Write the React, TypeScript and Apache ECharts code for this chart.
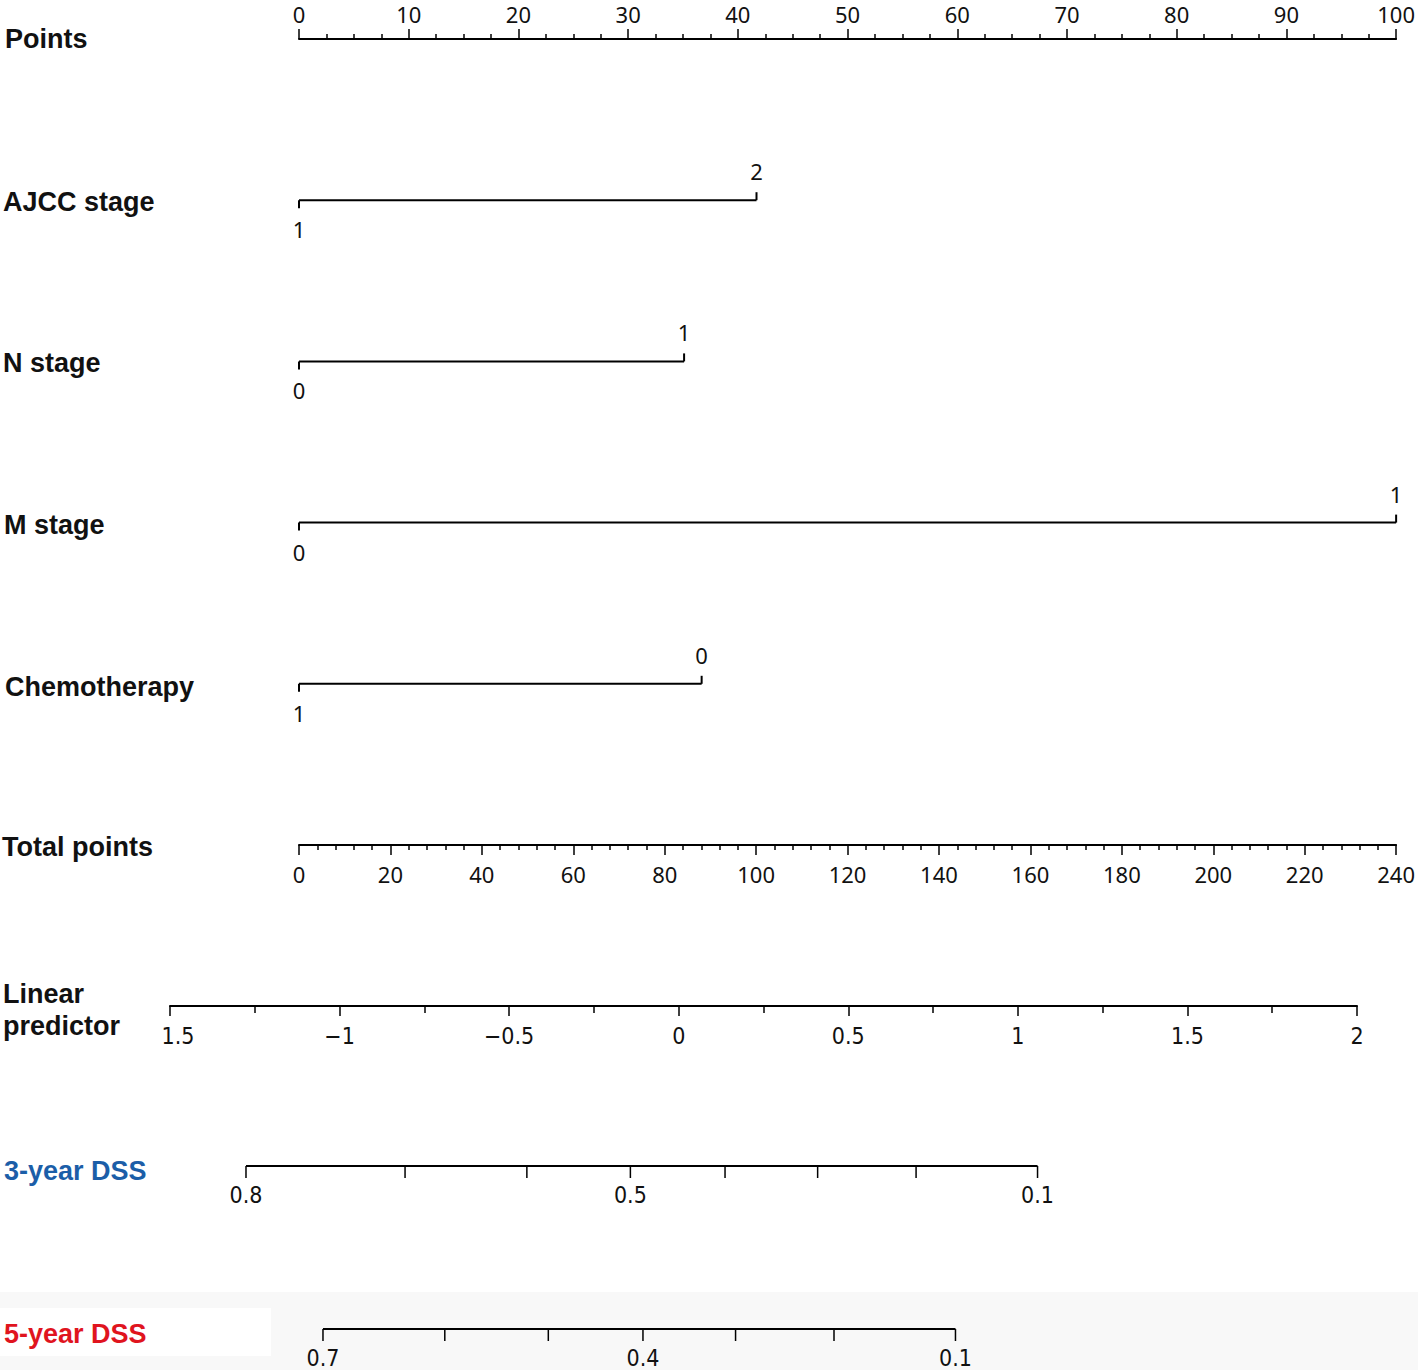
import React, { useEffect, useRef } from "react";
import * as echarts from "echarts";

// ---- data ----
const rowNames = ["Points", "AJCC stage", "N stage", "M stage", "Chemotherapy", "Total points"];
const ajccLevels = ["1", "2"];
const ajccPoints = [0, 41.7];
const nStageLevels = ["0", "1"];
const nStagePoints = [0, 35.1];
const mStageLevels = ["0", "1"];
const mStagePoints = [0, 100];
const chemoLevels = ["1", "0"];
const chemoPoints = [0, 36.7];

const pointsRange = [0, 100];
const totalPointsRange = [0, 240];
const lpRange = [-1.5, 2];

const dssRows = ["3-year DSS", "5-year DSS"];
const dss3Probs = [0.8, 0.7, 0.6, 0.5, 0.4, 0.3, 0.2, 0.1];
const dss3Labeled = [0.8, 0.5, 0.1];
const dss5Probs = [0.7, 0.6, 0.5, 0.4, 0.3, 0.2, 0.1];
const dss5Labeled = [0.7, 0.4, 0.1];
// survival S = S0^exp(lp)  ->  lp = ln(-ln S) - offset
const dss3Offset = -0.224;
const dss5Offset = 0.018;

const variables = [
  { levels: ajccLevels, points: ajccPoints },
  { levels: nStageLevels, points: nStagePoints },
  { levels: mStageLevels, points: mStagePoints },
  { levels: chemoLevels, points: chemoPoints },
];

const lpOf = (p: number, off: number) => Math.log(-Math.log(p)) - off;

const TICK_FONT = '"Noto Sans", "Open Sans", sans-serif';
const NARROW_FONT = '"Liberation Sans Narrow", "DejaVu Sans Condensed", "Liberation Sans", sans-serif';
const TITLE_FONT = '"Liberation Sans", Arial, sans-serif';

export default function App() {
  const ref = useRef<HTMLDivElement>(null);
  useEffect(() => {
    document.body.style.margin = "0";
    const chart = echarts.init(ref.current!, null, { renderer: "svg" });

    // variable rows
    const varData: any[] = [];
    const varMeta: { label: string; up: boolean }[] = [];
    variables.forEach((v, r) => {
      v.points.forEach((pt, i) => {
        varData.push([pt, r + 1]);
        varMeta.push({ label: v.levels[i], up: i % 2 === 1 });
      });
    });

    const varLines = variables.map((v, r) => ({
      type: "line",
      xAxisIndex: 0,
      yAxisIndex: 0,
      symbol: "none",
      silent: true,
      lineStyle: { color: "#000", width: 2 },
      data: [
        [Math.min(...v.points), r + 1],
        [Math.max(...v.points), r + 1],
      ],
    }));

    // DSS rows
    const dssSets = [
      { probs: dss3Probs, labeled: dss3Labeled, off: dss3Offset },
      { probs: dss5Probs, labeled: dss5Labeled, off: dss5Offset },
    ];
    const dssData: any[] = [];
    const dssMeta: { label: string }[] = [];
    dssSets.forEach((s, r) => {
      s.probs.forEach((p) => {
        dssData.push([lpOf(p, s.off), r]);
        dssMeta.push({ label: s.labeled.includes(p) ? String(p) : "" });
      });
    });
    const dssLines = dssSets.map((s, r) => ({
      type: "line",
      xAxisIndex: 3,
      yAxisIndex: 2,
      symbol: "none",
      silent: true,
      lineStyle: { color: "#000", width: 2 },
      data: [
        [lpOf(s.probs[0], s.off), r],
        [lpOf(s.probs[s.probs.length - 1], s.off), r],
      ],
    }));

    const axisCommon = {
      axisLine: { show: true, lineStyle: { color: "#000", width: 2 } },
      splitLine: { show: false },
    };

    const titles = [
      { text: "Points", x: 5, y: 39, color: "#111" },
      { text: "AJCC stage", x: 3, y: 202, color: "#111" },
      { text: "N stage", x: 3, y: 363, color: "#111" },
      { text: "M stage", x: 4, y: 525, color: "#111" },
      { text: "Chemotherapy", x: 5, y: 687, color: "#111" },
      { text: "Total points", x: 2, y: 847, color: "#111" },
      { text: "Linear", x: 3, y: 994, color: "#111" },
      { text: "predictor", x: 3, y: 1026, color: "#111" },
      { text: "3-year DSS", x: 4, y: 1171, color: "#1b5ea8" },
      { text: "5-year DSS", x: 4, y: 1334, color: "#e0141e" },
    ];

    const option: any = {
      animation: false,
      backgroundColor: "#fff",
      graphic: [
        { type: "rect", z: -10, shape: { x: 0, y: 1292, width: 1418, height: 78 }, style: { fill: "#f8f8f8" } },
        { type: "rect", z: -9, shape: { x: 0, y: 1308, width: 271, height: 48 }, style: { fill: "#ffffff" } },
        ...titles.map((t) => ({
          type: "text",
          x: t.x,
          y: t.y,
          z: 5,
          style: {
            text: t.text,
            fill: t.color,
            fontFamily: TITLE_FONT,
            fontWeight: "bold",
            fontSize: 27,
            verticalAlign: "middle",
            align: "left",
          },
        })),
      ],
      grid: [
        { left: 299, width: 1098, top: 39, height: 806 },
        { left: 170, width: 1187, top: 996, height: 10 },
        { left: 170, width: 1187, top: 1166, height: 163 },
      ],
      xAxis: [
        {
          ...axisCommon,
          gridIndex: 0,
          type: "value",
          position: "top",
          min: pointsRange[0],
          max: pointsRange[1],
          interval: 10,
          axisTick: { show: true, length: 10, lineStyle: { color: "#000", width: 1.5 } },
          minorTick: { show: true, splitNumber: 4, length: 5, lineStyle: { color: "#000", width: 1.5 } },
          axisLabel: { color: "#111", fontSize: 22, lineHeight: 22, fontFamily: TICK_FONT, margin: 14 },
        },
        {
          ...axisCommon,
          gridIndex: 0,
          type: "value",
          position: "bottom",
          min: totalPointsRange[0],
          max: totalPointsRange[1],
          interval: 20,
          axisTick: { show: true, length: 10, lineStyle: { color: "#000", width: 1.5 } },
          minorTick: { show: true, splitNumber: 5, length: 5, lineStyle: { color: "#000", width: 1.5 } },
          axisLabel: { color: "#111", fontSize: 22, lineHeight: 22, fontFamily: TICK_FONT, margin: 18 },
        },
        {
          ...axisCommon,
          gridIndex: 1,
          type: "value",
          position: "bottom",
          min: lpRange[0],
          max: lpRange[1],
          interval: 0.5,
          axisTick: { show: true, length: 10, lineStyle: { color: "#000", width: 1.5 } },
          minorTick: { show: true, splitNumber: 2, length: 7, lineStyle: { color: "#000", width: 1.5 } },
          axisLabel: {
            color: "#111",
            fontSize: 23,
            lineHeight: 23,
            fontFamily: NARROW_FONT,
            margin: 18,
            formatter: (v: number) => {
              if (v === lpRange[0]) return "{s|" + String(Math.abs(v)) + "}";
              return v < 0 ? "\u2212" + String(Math.abs(v)) : String(v);
            },
            rich: { s: { fontSize: 23, lineHeight: 23, fontFamily: NARROW_FONT, color: "#111", padding: [0, 0, 0, 16] } },
          },
        },
        {
          gridIndex: 2,
          type: "value",
          show: false,
          min: lpRange[0],
          max: lpRange[1],
        },
      ],
      yAxis: [
        { gridIndex: 0, type: "category", data: rowNames, inverse: true, boundaryGap: false, show: false },
        { gridIndex: 1, type: "value", show: false },
        { gridIndex: 2, type: "category", data: dssRows, inverse: true, boundaryGap: false, show: false },
      ],
      series: [
        ...varLines,
        {
          type: "custom",
          xAxisIndex: 0,
          yAxisIndex: 0,
          silent: true,
          data: varData,
          renderItem: (params: any, api: any) => {
            const c = api.coord([api.value(0), api.value(1)]);
            const m = varMeta[params.dataIndex];
            const dir = m.up ? -1 : 1;
            return {
              type: "group",
              children: [
                {
                  type: "line",
                  shape: { x1: c[0], y1: c[1], x2: c[0], y2: c[1] + dir * 8 },
                  style: { stroke: "#000", lineWidth: 2 },
                },
                {
                  type: "text",
                  x: c[0],
                  y: c[1] + dir * 29,
                  style: {
                    text: m.label,
                    fill: "#111",
                    fontSize: 22,
                    fontFamily: TICK_FONT,
                    align: "center",
                    verticalAlign: "middle",
                  },
                },
              ],
            };
          },
        },
        ...dssLines,
        {
          type: "custom",
          xAxisIndex: 3,
          yAxisIndex: 2,
          silent: true,
          data: dssData,
          renderItem: (params: any, api: any) => {
            const c = api.coord([api.value(0), api.value(1)]);
            const m = dssMeta[params.dataIndex];
            const children: any[] = [
              {
                type: "line",
                shape: { x1: c[0], y1: c[1], x2: c[0], y2: c[1] + 12 },
                style: { stroke: "#000", lineWidth: 1.5 },
              },
            ];
            if (m.label) {
              children.push({
                type: "text",
                x: c[0],
                y: c[1] + 29,
                style: {
                  text: m.label,
                  fill: "#111",
                  fontSize: 23,
                  lineHeight: 23,
                  fontFamily: NARROW_FONT,
                  align: "center",
                  verticalAlign: "middle",
                },
              });
            }
            return { type: "group", children };
          },
        },
      ],
    };
    chart.setOption(option);
    return () => chart.dispose();
  }, []);
  return <div ref={ref} style={{ width: 1418, height: 1370 }} />;
}
